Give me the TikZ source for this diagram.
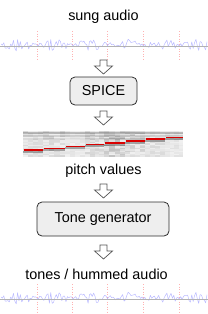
\documentclass[tikz,border=0pt]{standalone}
\usepackage{fontspec}
\setmainfont{Liberation Sans}
\newcommand\blockarr[2]{%
  \draw[blockarrow] (#1-3.5,#2) -- (#1+3.5,#2) -- (#1+3.5,#2+6) -- (#1+9,#2+6) -- (#1,#2+14) -- (#1-9,#2+6) -- (#1-3.5,#2+6) -- cycle;}
\newcommand\wavef[1]{%
  \foreach \xx in {37,72.5,107.5,143,179} \draw[marker] (\xx,#1-15) -- (\xx,#1+14);
  \pgfmathsetseed{42}
  \draw[wave] plot[samples=150, domain=1:207, variable=\t] (\t, {#1 - 1 + (1.5+4.5*abs(sin(\t*5)))*rand});
  \draw[baseln] (0,#1) -- (208,#1);
}
\begin{document}
\begin{tikzpicture}[x=1pt,y=-1pt,
  lbl/.style={font=\fontsize{14.4}{17}\selectfont, inner sep=0pt, anchor=base},
  procbox/.style={draw=gray!35!black, fill=gray!13, rounded corners=5pt, line width=0.8pt, font=\fontsize{14.4}{17}\selectfont},
  blockarrow/.style={draw=gray!65!black, fill=white, line width=0.7pt, line join=miter},
  wave/.style={draw=blue!60!white, opacity=0.45, line width=0.5pt, line join=round},
  baseln/.style={draw=gray!60, line width=0.7pt},
  marker/.style={draw=red!30, dotted, line width=0.5pt},
  speck/.style={fill=black}]
\useasboundingbox (0,0) rectangle (208,314);

% top waveform
\node[lbl] (sung) at (103.5,20.5) {sung audio};
\wavef{46}

\blockarr{103.5}{60}
\node[procbox, minimum width=67pt, minimum height=28pt] (spice) at (103.5,91) {SPICE};
\blockarr{103.5}{111}

% spectrogram
\pgfmathsetseed{7}
\foreach \xa/\xb/\ry/\dk in {23/43/150/0.2, 43/65/148.5/0.25, 65/85/146.5/0.12, 85/104/144.5/0.25, 104/125/143/0.4, 125/145/141/0.3, 145/165/139/0.2, 165/183/137.5/0.15}{
  \fill[gray!7] (\xa,130.5) rectangle (\xb,157);
  \foreach \yy in {131,132.5,...,156}{
    \foreach \xx in {0,1,2,3}{
      \pgfmathsetmacro\op{0.02+\dk*0.5*rnd}
      \fill[speck, opacity=\op] ({\xa+(\xb-\xa)*\xx/4},\yy) rectangle ({\xa+(\xb-\xa)*(\xx+1)/4},\yy+1.5);
    }
  }
  \draw[black, opacity=0.22, line width=1.5pt] (\xa,132.8) -- (\xb,132.8);
  \draw[black, opacity=0.12, line width=1.5pt] (\xa,136) -- (\xb,136);
  \draw[black, opacity=0.4*\dk, line width=1.5pt] (\xa,139) -- (\xb,139);
  \draw[black, opacity=0.3, line width=2pt] (\xa,\ry+1.8) -- (\xb,\ry+1.8);
  \draw[red!85!black, line width=1.2pt] (\xa+0.5,\ry) -- (\xb-0.5,\ry);
}
\node[lbl] (pitch) at (103.5,174) {pitch values};

\blockarr{103.5}{184}
\node[procbox, minimum width=132pt, minimum height=34pt] (tone) at (103,219) {Tone generator};
\blockarr{103.5}{245}

\node[lbl] (tones) at (96.5,279) {tones / hummed audio};
\wavef{299}
\end{tikzpicture}
\end{document}
